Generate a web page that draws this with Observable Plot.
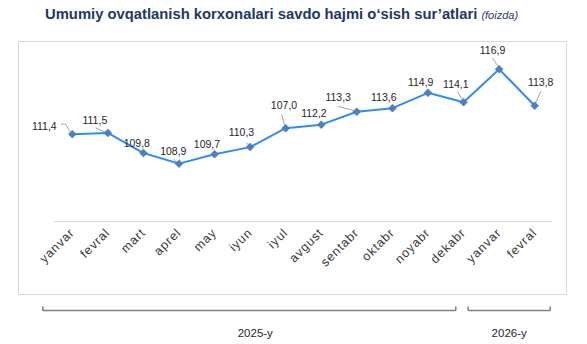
<!DOCTYPE html>
<html><head><meta charset="utf-8">
<script src="https://cdn.jsdelivr.net/npm/d3@7"></script>
<script src="https://cdn.jsdelivr.net/npm/@observablehq/plot@0.6"></script>
<style>
body{margin:0;background:#fff;font-family:"Liberation Sans",Arial,sans-serif;}
#wrap{position:relative;width:587px;height:344px;overflow:hidden;background:#fff;}
#title{position:absolute;left:45px;top:6px;white-space:nowrap;color:#1F3864;font-weight:bold;font-size:14.8px;}
#title i{font-weight:normal;font-size:11px;}
#box{position:absolute;left:18px;top:41px;width:547px;height:252px;border:1px solid #D9D9D9;}
#main,#years{position:absolute;left:0;}
#main{top:0}
#years{top:296px}
#main g[aria-label="x-axis tick label"]{letter-spacing:0.9px;}
</style></head><body>
<div id="wrap"><div id="box"></div><div id="title">Umumiy ovqatlanish korxonalari savdo hajmi o‘sish sur’atlari <i>(foizda)</i></div><div id="main"></div><div id="years"></div></div>
<script>
// ---- data ----
const months = ["yanvar","fevral","mart","aprel","may","iyun","iyul","avgust","sentabr","oktabr","noyabr","dekabr","yanvar","fevral"];
const values = [111.4,111.5,109.8,108.9,109.7,110.3,111.9,112.2,113.3,113.6,114.9,114.1,116.9,113.8];
const valueLabels = ["111,4","111,5","109,8","108,9","109,7","110,3","107,0","112,2","113,3","113,6","114,9","114,1","116,9","113,8"];
const years = ["2025-y","2026-y"];
const yearFirstMonth = [0,12];
const yearLastMonth = [11,13];

// ---- layout ----
const W = 587, H = 300;
const xLeft = 54, xRight = 552, yBottom = 221, yTop = 55.7;
const yDomain = [104, 118];
const kx = (xRight - xLeft) / months.length;
const ky = (yBottom - yTop) / (yDomain[1] - yDomain[0]);
const labelOffset = [[-28,-8],[-13,-12],[-6.6,-9.6],[-5.7,-12],[-7.6,-9.4],[-8.7,-14.4],[-1.7,-22.7],[-7.4,-11.3],[-18.7,-14],[-8.7,-10.7],[-7.3,-10.4],[-7.7,-18],[-6.6,-18.3],[6,-22.7]];
const leaderPaths = {0:[[-11.1,-10],[-6.8,-10],[-1.8,-1.6]], 1:[[-12,-5],[-2,-0.5]], 3:[[-5,-4.4],[-1.7,-1]], 5:[[-3.3,-4],[-0.7,-0.7]], 6:[[-4,-13.5],[-1,-2.5]], 8:[[-18.7,-5.3],[-2,-0.8]], 11:[[-6,-10.6],[-1,-2.3]], 12:[[-6.6,-11],[-1,-2.6]], 13:[[6,-14.3],[1,-3.3]]};
const bracketPad = [[-11.7,-25.6],[-13.2,-2.3]];
const yearLabelShift = [6, 0];

const data = months.map((m, i) => ({
  i, m, v: values[i], label: valueLabels[i],
  tx: i + labelOffset[i][0] / kx,
  ty: values[i] - labelOffset[i][1] / ky
}));
const leaders = [];
for (const [k, pts] of Object.entries(leaderPaths)) {
  pts.forEach(([dx, dy]) => leaders.push({id: +k, x: +k + dx / kx, y: values[+k] - dy / ky}));
}

const font = "Liberation Sans, Arial, sans-serif";
const main = Plot.plot({
  width: W, height: H,
  marginLeft: xLeft, marginRight: W - xRight, marginTop: yTop, marginBottom: H - yBottom,
  x: {type: "linear", domain: [-0.5, months.length - 0.5], label: null},
  y: {domain: yDomain, axis: null, label: null},
  style: {background: "transparent", fontFamily: font},
  marks: [
    Plot.ruleY([yDomain[0]], {stroke: "#D9D9D9", strokeWidth: 1}),
    Plot.axisX({ticks: d3.range(months.length), tickFormat: i => months[i], tickRotate: -45, tickSize: 0, tickPadding: 9, fontSize: 12.5, fill: "#3A3A3A", label: null}),
    Plot.line(leaders, {x: "x", y: "y", z: "id", stroke: "#A6A6A6", strokeWidth: 1}),
    Plot.line(data, {x: "i", y: "v", stroke: "#2D8FF0", strokeWidth: 2}),
    Plot.dot(data, {x: "i", y: "v", symbol: "diamond2", r: 3.6, fill: "#4C7FC0", stroke: "#4C7FC0", strokeWidth: 0.5}),
    Plot.text(data, {x: "tx", y: "ty", text: "label", fontSize: 10.5, fill: "#262626"})
  ]
});
document.getElementById("main").append(main);

const yr = years.map((name, j) => {
  const x1 = yearFirstMonth[j] - 0.5 + bracketPad[j][0] / kx;
  const x2 = yearLastMonth[j] + 0.5 + bracketPad[j][1] / kx;
  return {name, x1, x2, mid: (x1 + x2) / 2 + yearLabelShift[j] / kx};
});
const ends = yr.flatMap(d => [{x: d.x1}, {x: d.x2}]);
const yearsPlot = Plot.plot({
  width: W, height: 48,
  marginLeft: xLeft, marginRight: W - xRight, marginTop: 0, marginBottom: 0,
  x: {type: "linear", domain: [-0.5, months.length - 0.5], axis: null},
  y: {domain: [0, 48], range: [0, 48], axis: null},
  style: {background: "transparent", fontFamily: font, overflow: "visible"},
  marks: [
    Plot.link(yr, {x1: "x1", x2: "x2", y1: 14, y2: 14, stroke: "#7F7F7F", strokeWidth: 1.5}),
    Plot.ruleX(ends, {x: "x", y1: 10.5, y2: 14.7, stroke: "#7F7F7F", strokeWidth: 1.5}),
    Plot.text(yr, {x: "mid", y: 37, text: "name", fontSize: 11.5, fill: "#262626"})
  ]
});
document.getElementById("years").append(yearsPlot);
</script>
</body></html>
